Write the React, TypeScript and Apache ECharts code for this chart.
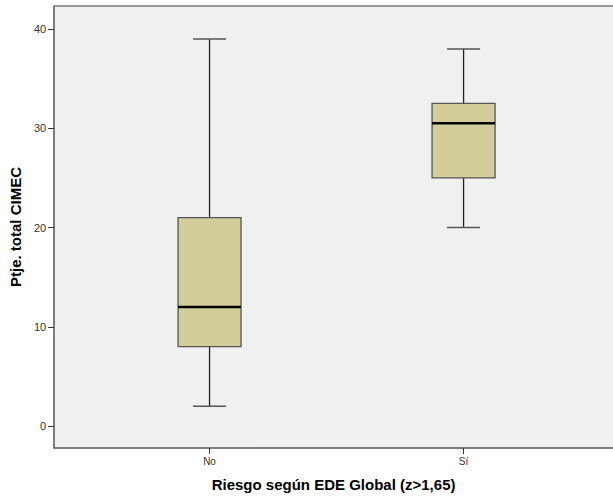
import React, { useEffect, useRef } from "react";
import * as echarts from "echarts";

const categories = ["No", "Sí"];
const mins = [2, 20];
const q1s = [8, 25];
const medians = [12, 30.5];
const q3s = [21, 32.5];
const maxs = [39, 38];
const yTicks = [0, 10, 20, 30, 40];

const FONT = "'Liberation Sans', Arial, sans-serif";

export default function App() {
  const ref = useRef<HTMLDivElement>(null);
  useEffect(() => {
    document.body.style.margin = "0";
    if (!ref.current) return;
    const chart = echarts.init(ref.current, null, { renderer: "svg" });
    const data = categories.map((c, i) => [i, mins[i], q1s[i], medians[i], q3s[i], maxs[i]]);
    const catIdx = categories.map((_, i) => i);
    const xMin = -156 / 255;
    const xMax = 1 + 150 / 255;
    chart.setOption({
      animation: false,
      grid: {
        left: 52,
        top: 6,
        right: 0,
        bottom: 48,
        show: true,
        backgroundColor: "#f0f0f0",
        borderWidth: 0,
      },
      xAxis: [
        {
          type: "value",
          min: xMin,
          max: xMax,
          name: "Riesgo según EDE Global (z>1,65)",
          nameLocation: "middle",
          nameGap: 29,
          nameTextStyle: { fontFamily: FONT, fontSize: 15, fontWeight: "bold", color: "#000" },
          axisLine: { onZero: false, lineStyle: { color: "#555", width: 1.5 } },
          axisTick: { customValues: catIdx, length: 6, lineStyle: { color: "#333" } },
          axisLabel: {
            customValues: catIdx,
            formatter: (v: number) => categories[Math.round(v)] ?? "",
            fontFamily: FONT,
            fontSize: 10,
            color: "#333",
            margin: 8,
          },
          splitLine: { show: false },
        },
        {
          type: "value",
          position: "top",
          min: xMin,
          max: xMax,
          axisLine: { show: true, onZero: false, lineStyle: { color: "#7a7a7a", width: 1.5 } },
          axisTick: { show: false },
          axisLabel: { show: false },
          splitLine: { show: false },
        },
      ],
      yAxis: {
        type: "value",
        min: -2.21,
        max: 42.32,
        name: "Ptje. total CIMEC",
        nameLocation: "middle",
        nameGap: 29,
        nameTextStyle: { fontFamily: FONT, fontSize: 15, fontWeight: "bold", color: "#000" },
        axisLine: { show: true, onZero: false, lineStyle: { color: "#555", width: 1.5 } },
        axisTick: { show: true, customValues: yTicks, length: 6, lineStyle: { color: "#333" } },
        axisLabel: {
          customValues: yTicks,
          fontFamily: FONT,
          fontSize: 11,
          color: "#333",
          margin: 8,
        },
        splitLine: { show: false },
      },
      series: [
        {
          type: "custom",
          xAxisIndex: 0,
          encode: { x: 0, y: [1, 2, 3, 4, 5] },
          data,
          renderItem: (params: any, api: any) => {
            const x = api.value(0);
            const pMin = api.coord([x, api.value(1)]);
            const pQ1 = api.coord([x, api.value(2)]);
            const pMed = api.coord([x, api.value(3)]);
            const pQ3 = api.coord([x, api.value(4)]);
            const pMax = api.coord([x, api.value(5)]);
            const cx = pMin[0];
            const bh = 31.5;
            const ch = 16.5;
            const lineStyle = { stroke: "#222", lineWidth: 1.3 };
            return {
              type: "group",
              children: [
                { type: "line", shape: { x1: cx, y1: pMax[1], x2: cx, y2: pQ3[1] }, style: lineStyle },
                { type: "line", shape: { x1: cx, y1: pQ1[1], x2: cx, y2: pMin[1] }, style: lineStyle },
                { type: "line", shape: { x1: cx - ch, y1: pMax[1], x2: cx + ch, y2: pMax[1] }, style: { stroke: "#555", lineWidth: 1.5 } },
                { type: "line", shape: { x1: cx - ch, y1: pMin[1], x2: cx + ch, y2: pMin[1] }, style: { stroke: "#555", lineWidth: 1.5 } },
                {
                  type: "rect",
                  shape: { x: cx - bh, y: pQ3[1], width: bh * 2, height: pQ1[1] - pQ3[1] },
                  style: { fill: "#d3ce99", stroke: "#555", lineWidth: 1.3 },
                },
                { type: "line", shape: { x1: cx - bh, y1: pMed[1], x2: cx + bh, y2: pMed[1] }, style: { stroke: "#000", lineWidth: 2.6 } },
              ],
            };
          },
        },
      ],
    });
    return () => chart.dispose();
  }, []);
  return <div ref={ref} style={{ width: 613, height: 497 }} />;
}
